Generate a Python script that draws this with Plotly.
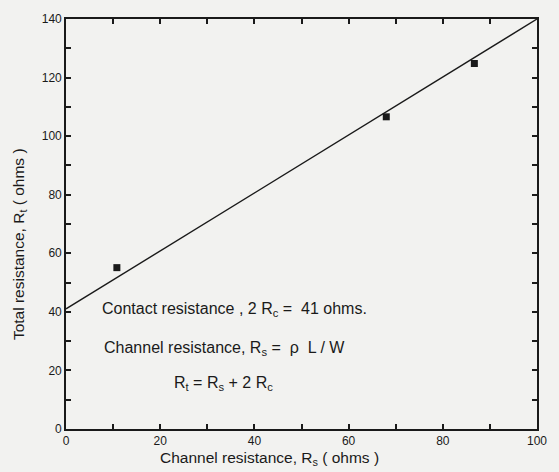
import plotly.graph_objects as go

# Data
channel_res = [10.8, 68.0, 86.7]        # R_s (ohms)
total_res = [55.1, 106.6, 124.8]        # R_t (ohms)
fit_x = [0, 100]
fit_y = [41, 140]
x_range = [0, 100]
y_range = [0, 140]
x_tick_labels = ["0", "", "20", "", "40", "", "60", "", "80", "", "100"]
y_tick_labels = ["0", "", "20", "", "40", "", "60", "", "80", "", "100", "", "120", "", "140"]

FONT = "Liberation Sans, Arial, Helvetica, sans-serif"
INK = "#1a1a1a"
PAPER = "#f2f2f0"

fig = go.Figure()
fig.add_trace(go.Scatter(x=fit_x, y=fit_y, mode="lines",
                         line=dict(color=INK, width=1.4), hoverinfo="skip"))
fig.add_trace(go.Scatter(x=channel_res, y=total_res, mode="markers",
                         marker=dict(symbol="square", size=7, color=INK)))

axis_common = dict(
    showline=True, linecolor=INK, linewidth=1.6, mirror="allticks",
    ticks="inside", ticklen=5, tickwidth=1.5, tickcolor=INK,
    showgrid=False, zeroline=False,
    tickfont=dict(family=FONT, size=12, color=INK),
)

fig.update_xaxes(range=x_range,
                 tickvals=[10 * i for i in range(len(x_tick_labels))],
                 ticktext=x_tick_labels, **axis_common)
fig.update_yaxes(range=y_range,
                 tickvals=[10 * i for i in range(len(y_tick_labels))],
                 ticktext=y_tick_labels, **axis_common)

ann_font = dict(family=FONT, size=16, color=INK)
annotations = [
    dict(text="Contact resistance , 2 R<sub>c</sub> =  41 ohms.",
         x=100, y=308),
    dict(text="Channel resistance, R<sub>s</sub> =  ρ  L / W",
         x=102, y=347),
    dict(text="R<sub>t</sub> = R<sub>s</sub> + 2 R<sub>c</sub>",
         x=173, y=383),
]
for a in annotations:
    fig.add_annotation(text=a["text"], xref="paper", yref="paper",
                       x=(a["x"] - 66) / 475, y=1 - (a["y"] - 13) / 416,
                       xanchor="left", yanchor="middle",
                       showarrow=False, font=ann_font)

# axis titles
fig.add_annotation(text="Channel resistance, R<sub>s</sub> ( ohms )",
                   xref="paper", yref="paper",
                   x=(271 - 66) / 475, y=1 - (459 - 13) / 416,
                   xanchor="center", yanchor="middle", showarrow=False,
                   font=dict(family=FONT, size=15.5, color=INK))
fig.add_annotation(text="Total resistance, R<sub>t</sub> ( ohms )",
                   xref="paper", yref="paper",
                   x=(19 - 66) / 475, y=1 - (241 - 13) / 416,
                   xanchor="center", yanchor="middle", showarrow=False,
                   textangle=-90,
                   font=dict(family=FONT, size=15.5, color=INK))

fig.update_layout(
    width=559, height=472,
    margin=dict(l=66, r=18, t=13, b=43),
    paper_bgcolor=PAPER, plot_bgcolor=PAPER,
    showlegend=False,
)

fig.write_html("out.html")
